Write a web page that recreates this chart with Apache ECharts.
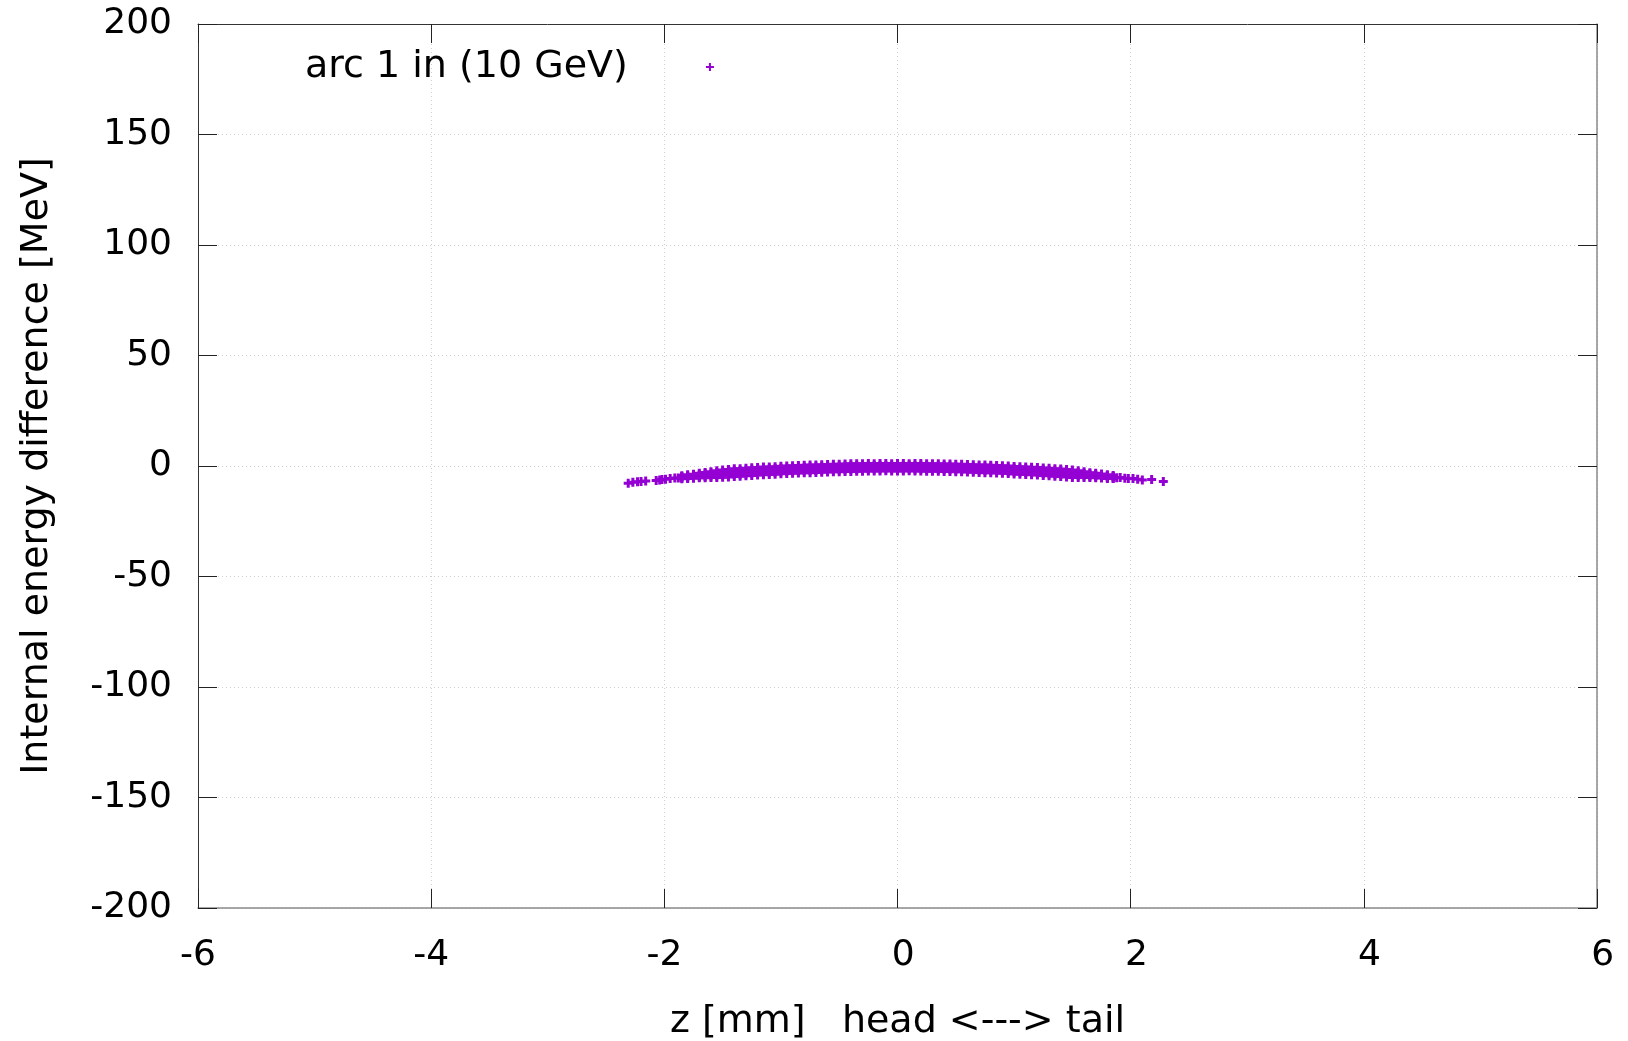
<!DOCTYPE html>
<html>
<head>
<meta charset="utf-8">
<script src="https://cdn.jsdelivr.net/npm/echarts@6/dist/echarts.min.js"></script>
<style>
html,body{margin:0;padding:0;background:#fff;}
#chart{width:1628px;height:1041px;}
</style>
</head>
<body>
<div id="chart"></div>
<script>
// ---- Data ----
const seriesName = 'arc 1 in (10 GeV)';
const xTicks = [-6, -4, -2, 0, 2, 4, 6];
const yTicks = [-200, -150, -100, -50, 0, 50, 100, 150, 200];

// z positions [mm] of the dense band (read along the band)
const zBand = [-1.85,-1.80,-1.75,-1.70,-1.65,-1.60,-1.55,-1.50,-1.45,-1.40,-1.35,-1.30,-1.25,-1.20,-1.15,-1.10,-1.05,-1.00,-0.95,-0.90,-0.85,-0.80,-0.75,-0.70,-0.65,-0.60,-0.55,-0.50,-0.45,-0.40,-0.35,-0.30,-0.25,-0.20,-0.15,-0.10,-0.05,0.00,0.05,0.10,0.15,0.20,0.25,0.30,0.35,0.40,0.45,0.50,0.55,0.60,0.65,0.70,0.75,0.80,0.85,0.90,0.95,1.00,1.05,1.10,1.15,1.20,1.25,1.30,1.35,1.40,1.45,1.50,1.55,1.60,1.65,1.70,1.75,1.80,1.85];
// energy [MeV] of particles across the band thickness, from top edge to bottom edge
const eOuterUp = [-4.4,-4.0,-3.7,-3.3,-2.9,-2.6,-2.1,-1.8,-1.6,-1.3,-1.2,-1.0,-0.8,-0.7,-0.5,-0.4,-0.3,-0.1,0.0,0.1,0.2,0.3,0.4,0.5,0.6,0.7,0.8,0.8,0.9,1.0,1.0,1.0,1.1,1.0,1.1,1.1,1.0,1.1,1.1,1.0,1.1,1.1,1.0,1.0,1.0,0.9,0.9,0.8,0.8,0.7,0.6,0.5,0.4,0.3,0.2,0.1,0.0,-0.2,-0.3,-0.4,-0.6,-0.7,-0.9,-1.0,-1.2,-1.4,-1.6,-1.8,-2.2,-2.6,-3.0,-3.3,-3.6,-4.0,-4.3];
const eInnerUp = [-4.8,-4.4,-4.1,-3.8,-3.4,-3.2,-2.9,-2.7,-2.5,-2.2,-2.1,-1.9,-1.7,-1.5,-1.4,-1.3,-1.1,-1.0,-0.9,-0.7,-0.6,-0.5,-0.4,-0.3,-0.3,-0.2,-0.1,-0.1,0.0,0.1,0.1,0.2,0.2,0.2,0.3,0.2,0.3,0.3,0.2,0.3,0.2,0.3,0.2,0.2,0.1,0.1,0.0,-0.1,-0.1,-0.2,-0.3,-0.4,-0.4,-0.5,-0.6,-0.8,-0.9,-1.0,-1.2,-1.3,-1.4,-1.6,-1.7,-1.9,-2.1,-2.3,-2.5,-2.6,-2.9,-3.2,-3.5,-3.8,-4.1,-4.4,-4.7];
const eCenter = [-5.1,-4.8,-4.5,-4.3,-4.1,-3.9,-3.7,-3.5,-3.3,-3.1,-2.9,-2.7,-2.6,-2.4,-2.2,-2.1,-2.0,-1.8,-1.7,-1.6,-1.5,-1.4,-1.3,-1.2,-1.1,-1.0,-0.9,-0.9,-0.8,-0.8,-0.7,-0.7,-0.6,-0.6,-0.6,-0.6,-0.5,-0.6,-0.6,-0.6,-0.6,-0.6,-0.6,-0.7,-0.7,-0.8,-0.8,-0.9,-0.9,-1.0,-1.1,-1.2,-1.3,-1.4,-1.5,-1.6,-1.7,-1.9,-2.0,-2.1,-2.3,-2.4,-2.6,-2.7,-2.9,-3.1,-3.3,-3.5,-3.7,-3.9,-4.1,-4.3,-4.5,-4.8,-5.0];
const eInnerDown = [-5.5,-5.2,-5.0,-4.8,-4.7,-4.5,-4.4,-4.3,-4.0,-3.9,-3.7,-3.6,-3.4,-3.2,-3.1,-2.9,-2.8,-2.7,-2.5,-2.4,-2.3,-2.2,-2.1,-2.0,-1.9,-1.9,-1.8,-1.7,-1.7,-1.6,-1.6,-1.5,-1.5,-1.4,-1.5,-1.4,-1.5,-1.4,-1.5,-1.4,-1.5,-1.4,-1.5,-1.5,-1.6,-1.6,-1.7,-1.7,-1.8,-1.9,-1.9,-2.0,-2.1,-2.2,-2.3,-2.4,-2.6,-2.7,-2.8,-3.0,-3.1,-3.3,-3.4,-3.6,-3.7,-3.9,-4.1,-4.3,-4.4,-4.5,-4.6,-4.8,-5.0,-5.2,-5.4];
const eOuterDown = [-5.8,-5.6,-5.5,-5.3,-5.3,-5.2,-5.2,-5.1,-5.0,-4.8,-4.6,-4.4,-4.3,-4.1,-4.0,-3.8,-3.7,-3.5,-3.4,-3.3,-3.2,-3.1,-3.0,-2.9,-2.8,-2.7,-2.6,-2.6,-2.5,-2.5,-2.4,-2.4,-2.3,-2.3,-2.3,-2.2,-2.3,-2.3,-2.3,-2.2,-2.3,-2.3,-2.4,-2.4,-2.4,-2.5,-2.5,-2.6,-2.6,-2.7,-2.8,-2.9,-3.0,-3.1,-3.2,-3.3,-3.4,-3.6,-3.7,-3.8,-4.0,-4.1,-4.3,-4.4,-4.6,-4.8,-5.0,-5.2,-5.2,-5.2,-5.2,-5.3,-5.4,-5.6,-5.7];
// sparse particles in the head and tail
const zTail = [-2.31,-2.27,-2.23,-2.20,-2.16,-2.07,-2.04,-2.02,-1.99,-1.95,-1.91,-1.88,1.88,1.91,1.95,1.98,2.02,2.06,2.10,2.18,2.28];
const eTail = [-7.8,-7.3,-7.1,-7.0,-6.8,-6.6,-6.3,-6.1,-6.0,-5.7,-5.4,-5.4,-5.3,-5.2,-5.5,-5.6,-5.7,-6.0,-6.3,-6.1,-7.0];

// ---- Build the library's data table ----
const points = [];
[eOuterUp, eInnerUp, eCenter, eInnerDown, eOuterDown].forEach(arr => {
  arr.forEach((e, i) => points.push([zBand[i], e]));
});
zTail.forEach((z, i) => points.push([z, eTail[i]]));

const FONT = 'DejaVu Sans';
const PLUS = 'path://M3,0H6V3H9V6H6V9H3V6H0V3H3Z';
const PLUS_THIN = 'path://M3,0H5V3H8V5H5V8H3V5H0V3H3Z';
const gridLine = { show: true, lineStyle: { color: '#cfcfcf', width: 1, type: [1, 3] } };
// gnuplot "% h" style: non-negative tick labels carry a leading sign space
const signSpace = v => (v >= 0 ? ' ' : '') + v;

const chart = echarts.init(document.getElementById('chart'), null, { renderer: 'canvas' });
chart.setOption({
  animation: false,
  backgroundColor: '#ffffff',
  grid: { left: 198, right: 31, top: 24, bottom: 133, containLabel: false, outerBoundsMode: 'none' },
  legend: {
    show: true,
    left: 305,
    top: 48,
    padding: 0,
    itemGap: 0,
    align: 'right',
    itemWidth: 154,
    itemHeight: 8,
    symbolKeepAspect: true,
    selectedMode: false,
    textStyle: { fontFamily: FONT, fontSize: 38, color: '#000', lineHeight: 38 },
    data: [{ name: seriesName, icon: PLUS_THIN }]
  },
  xAxis: [
    {
      type: 'value', position: 'bottom',
      min: xTicks[0], max: xTicks[xTicks.length - 1], interval: xTicks[1] - xTicks[0],
      name: 'z [mm]   head <---> tail', nameLocation: 'middle', nameGap: 95,
      nameTextStyle: { fontFamily: FONT, fontSize: 38, color: '#000', lineHeight: 38 },
      axisLine: { show: true, onZero: false, lineStyle: { color: '#8a8a8a', width: 1.5 } },
      axisTick: { show: true, inside: true, length: 19, lineStyle: { color: '#222', width: 1 } },
      axisLabel: { show: true, fontFamily: FONT, fontSize: 36, color: '#000', margin: 30, lineHeight: 36, formatter: signSpace },
      splitLine: gridLine
    },
    {
      type: 'value', position: 'top',
      min: xTicks[0], max: xTicks[xTicks.length - 1], interval: xTicks[1] - xTicks[0],
      axisLine: { show: true, onZero: false, lineStyle: { color: '#333', width: 1 } },
      axisTick: { show: true, inside: true, length: 19, lineStyle: { color: '#222', width: 1 } },
      axisLabel: { show: false },
      splitLine: { show: false }
    }
  ],
  yAxis: [
    {
      type: 'value', position: 'left',
      min: yTicks[0], max: yTicks[yTicks.length - 1], interval: yTicks[1] - yTicks[0],
      name: 'Internal energy difference [MeV]', nameLocation: 'middle', nameRotate: 90, nameGap: 142,
      nameTextStyle: { fontFamily: FONT, fontSize: 38, color: '#000', lineHeight: 38 },
      axisLine: { show: true, onZero: false, lineStyle: { color: '#333', width: 1 } },
      axisTick: { show: true, inside: true, length: 19, lineStyle: { color: '#222', width: 1 } },
      axisLabel: { show: true, fontFamily: FONT, fontSize: 36, color: '#000', margin: 26 },
      splitLine: gridLine
    },
    {
      type: 'value', position: 'right',
      min: yTicks[0], max: yTicks[yTicks.length - 1], interval: yTicks[1] - yTicks[0],
      axisLine: { show: true, onZero: false, lineStyle: { color: '#8a8a8a', width: 1.5 } },
      axisTick: { show: true, inside: true, length: 19, lineStyle: { color: '#222', width: 1 } },
      axisLabel: { show: false },
      splitLine: { show: false }
    }
  ],
  series: [
    {
      type: 'scatter',
      name: seriesName,
      xAxisIndex: 0,
      yAxisIndex: 0,
      data: points,
      symbol: PLUS,
      symbolSize: 9,
      symbolKeepAspect: true,
      itemStyle: { color: '#9400d3', opacity: 1 },
      emphasis: { disabled: true },
      silent: true,
      large: false
    }
  ]
});
</script>
</body>
</html>
